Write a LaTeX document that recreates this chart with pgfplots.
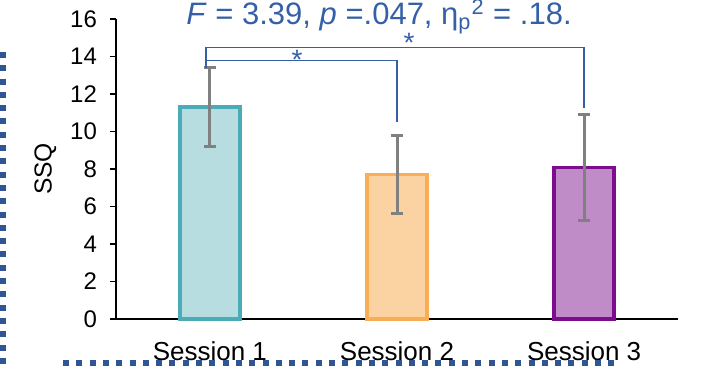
\documentclass[border=0pt]{standalone}
\usepackage{pgfplots}
\pgfplotsset{compat=1.18}
\usepackage{fontspec}
\setmainfont{Liberation Sans}
\definecolor{tealfill}{HTML}{B7DDE1}
\definecolor{tealedge}{HTML}{4BACB7}
\definecolor{orfill}{HTML}{FBD3A3}
\definecolor{oredge}{HTML}{F9AE56}
\definecolor{pufill}{HTML}{C08CC8}
\definecolor{puedge}{HTML}{7D0C8F}
\definecolor{errgray}{HTML}{808080}
\definecolor{annblue}{HTML}{3560A8}
\definecolor{dotblue}{HTML}{2F5597}
\begin{document}
\begin{tikzpicture}
\path[use as bounding box] (-58.15pt,-24.5pt) rectangle (294.35pt,159.5pt);
\begin{axis}[
  at={(0,0)}, anchor=south west,
  scale only axis, width=280.7pt, height=150pt,
  xmin=-0.5, xmax=2.5, ymin=0, ymax=16,
  axis x line*=bottom, axis y line*=left,
  axis line style={line width=0.8pt, black},
  clip=false,
  ybar, bar width=30pt,
  ytick={0,2,...,16},
  xtick={0,1,2},
  xticklabels={Session 1,Session 2,Session 3},
  xtick style={draw=none},
  extra x ticks={-0.5,0.5,1.5,2.5},
  extra x tick labels={},
  extra x tick style={major tick length=3pt, tick style={line width=0.8pt, black}, tick align=outside},
  ytick style={line width=0.8pt, black},
  tick align=outside, major tick length=3pt,
  /pgf/number format/assume math mode=true,
  yticklabel style={font=\fontsize{12}{14}\selectfont, anchor=east, inner sep=0pt, xshift=-6.5pt},
  xticklabel style={font=\fontsize{13}{15}\selectfont, anchor=base, inner sep=0pt, yshift=-18pt},
  ylabel={SSQ},
  ylabel style={font=\fontsize{12.3}{14}\selectfont, at={(axis description cs:-0.1265,0.5)}, anchor=center, rotate=0},
  error bars/y dir=both, error bars/y explicit,
  error bars/error bar style={line width=1.5pt, errgray},
  error bars/error mark options={rotate=90, mark size=3pt, line width=1.5pt, errgray},
]
\addplot[bar shift=0pt, fill=tealfill, draw=tealedge, line width=1.8pt] coordinates {(0,11.3) +- (0,2.12)};
\addplot[bar shift=0pt, fill=orfill, draw=oredge, line width=1.8pt] coordinates {(1,7.7) +- (0,2.1)};
\addplot[bar shift=0pt, fill=pufill, draw=puedge, line width=1.8pt] coordinates {(2,8.08) +- (0,2.82)};
% significance brackets
\draw[annblue, line width=0.75pt] (axis cs:-0.02,13.4) -- (axis cs:-0.02,14.47) -- (axis cs:2.0,14.47) -- (axis cs:2.0,11.24);
\draw[annblue, line width=0.75pt] (axis cs:-0.02,13.78) -- (axis cs:1.0,13.78) -- (axis cs:1.0,10.52);
\node[annblue, anchor=base, inner sep=0pt, font=\fontsize{14}{15}\selectfont] at (axis cs:0.466,13.33) {*};
\node[annblue, anchor=base, inner sep=0pt, font=\fontsize{14}{15}\selectfont] at (axis cs:1.064,14.19) {*};
\node[annblue, anchor=base, inner sep=0pt, font=\fontsize{15.5}{17}\selectfont] at (axis cs:0.904,15.68)
  {\textit{F} = 3.39, \textit{p} =.047, η\textsubscript{p}\textsuperscript{2} = .18.};
\end{axis}
% decorative dotted frame of the slide
\draw[dotblue, line width=3pt, dash pattern=on 3pt off 3.65pt] (-56.65pt,133.5pt) -- (-56.65pt,-22.5pt);
\draw[dotblue, line width=3pt, dash pattern=on 3pt off 3.65pt] (-26.65pt,-22pt) -- (249.35pt,-22pt);
\end{tikzpicture}
\end{document}
